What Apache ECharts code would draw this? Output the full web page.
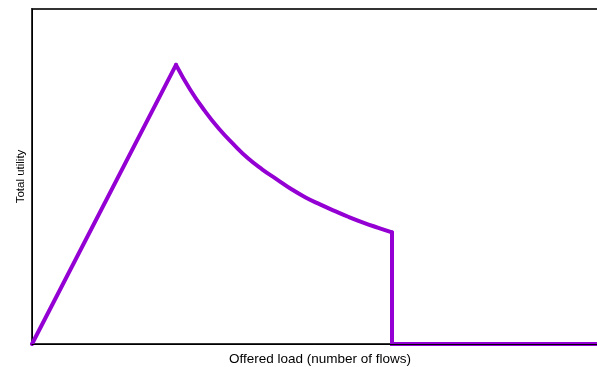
<!DOCTYPE html>
<html>
<head>
<meta charset="utf-8">
<script src="https://cdn.jsdelivr.net/npm/echarts@6/dist/echarts.min.js"></script>
<style>
html, body { margin: 0; padding: 0; background: #fff; }
#chart { width: 597px; height: 367px; }
</style>
</head>
<body>
<div id="chart"></div>
<script>
// offered load (flows) and total utility
var riseLoad    = [0, 10];
var riseUtility = [0, 10];
var decayLoad    = [10, 11, 12, 13, 14, 15, 16, 17, 18, 19, 20, 21, 22, 23, 24, 25];
var decayUtility = [10, 9.1, 8.35, 7.7, 7.15, 6.65, 6.25, 5.9, 5.55, 5.25, 5.0, 4.77, 4.55, 4.35, 4.17, 4.0];
var dropLoad    = [25, 25, 40];
var dropUtility = [4.0, 0, 0];

var xTitle = 'Offered load (number of flows)';
var yTitle = 'Total utility';

var chart = echarts.init(document.getElementById('chart'));

function pairs(xs, ys) {
	var out = [];
	for (var i = 0; i < xs.length; i++) out.push([xs[i], ys[i]]);
	return out;
}

function seg(xs, ys, smooth) {
	return {
		type: 'line',
		data: pairs(xs, ys),
		showSymbol: false,
		smooth: smooth,
		clip: false,
		lineStyle: { color: '#9400d3', width: 4, cap: 'round', join: 'miter' }
	};
}

var option = {
	animation: false,
	grid: {
		left: 32, top: 9, right: -11, bottom: 23,
		outerBoundsMode: 'none',
		show: true, borderColor: '#333', borderWidth: 2
	},
	xAxis: {
		type: 'value', min: 0, max: 40, z: 5,
		name: xTitle, nameLocation: 'middle', nameGap: 8,
		nameTextStyle: { fontFamily: 'Liberation Sans', fontSize: 13.5, color: '#000' },
		axisLine: { show: true, lineStyle: { color: '#000', width: 1 } },
		axisTick: { show: false }, axisLabel: { show: false }, splitLine: { show: false }
	},
	yAxis: {
		type: 'value', min: 0, max: 12,
		name: yTitle, nameLocation: 'middle', nameGap: 5,
		nameTextStyle: { fontFamily: 'Liberation Sans', fontSize: 11.5, color: '#000' },
		axisLine: { show: true, lineStyle: { color: '#000', width: 1 } },
		axisTick: { show: false }, axisLabel: { show: false }, splitLine: { show: false }
	},
	series: [
		seg(riseLoad, riseUtility, false),
		seg(decayLoad, decayUtility, 0.5),
		seg(dropLoad, dropUtility, false)
	]
};

chart.setOption(option);
</script>
</body>
</html>
